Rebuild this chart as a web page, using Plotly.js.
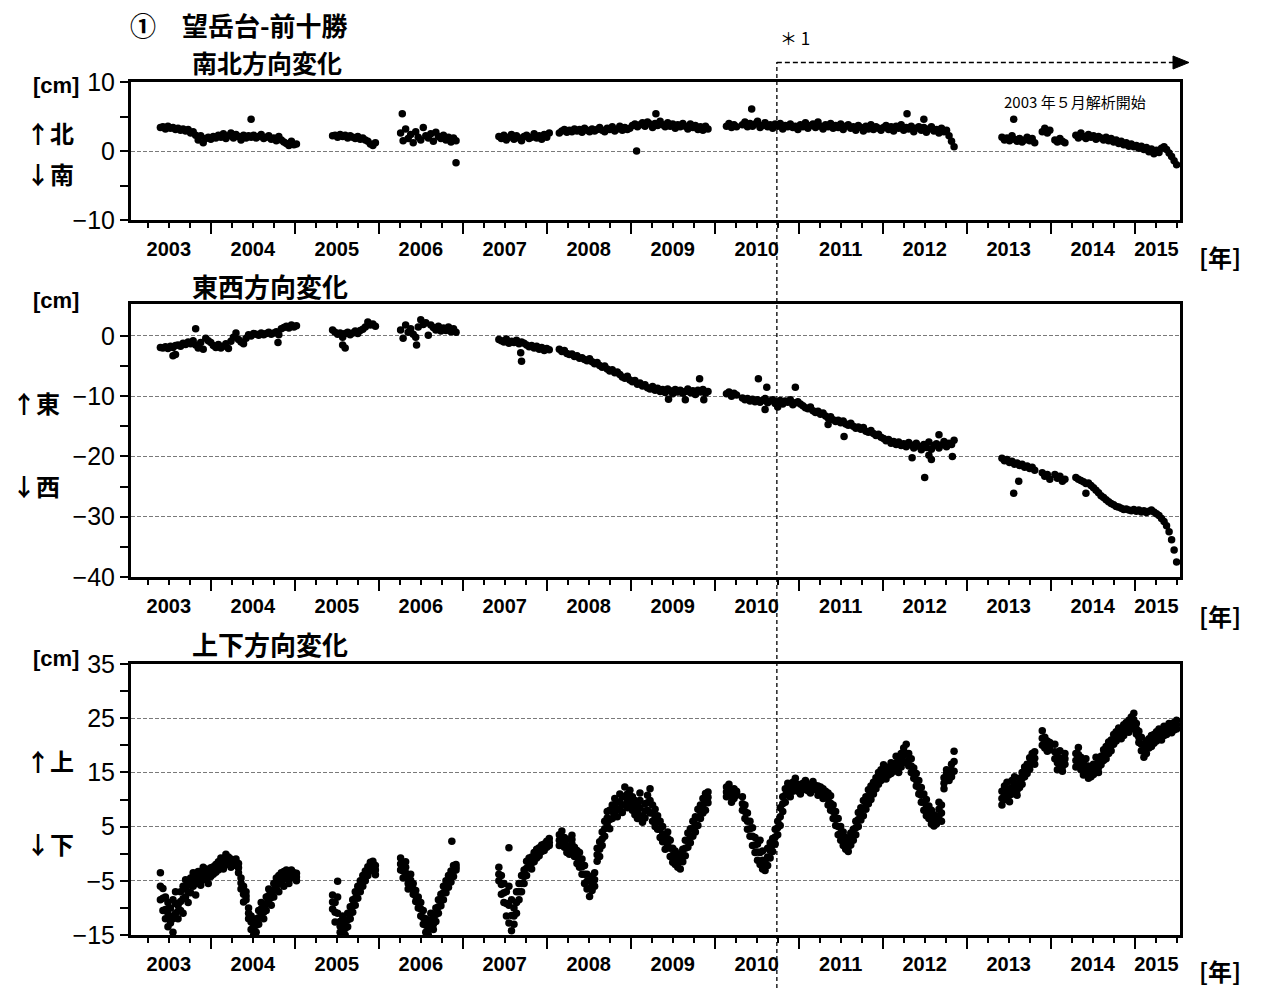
<!DOCTYPE html>
<html><head><meta charset="utf-8">
<script src="https://cdn.plot.ly/plotly-3.0.1.min.js"></script>
<style>body{margin:0;background:#fff}#chart{width:1265px;height:988px}</style>
</head><body><div id="chart"></div>
<script>
// ---- observation times (decimal years), shared by the three components ----
const t = [
// A
2003.40,2003.43,2003.46,2003.49,2003.52,2003.55,2003.58,2003.61,2003.64,2003.67,2003.70,2003.73,2003.76,2003.79,2003.82,2003.85,2003.88,2003.91,2003.94,2003.97,
2004.00,2004.03,2004.06,2004.09,2004.12,2004.15,2004.18,2004.21,2004.24,2004.27,2004.30,2004.33,2004.36,2004.39,2004.42,2004.45,2004.48,2004.51,2004.54,2004.57,
2004.60,2004.63,2004.66,2004.69,2004.72,2004.75,2004.78,2004.81,2004.84,2004.87,2004.90,2004.93,2004.96,2004.99,2005.02,
// B
2005.45,2005.48,2005.51,2005.54,2005.57,2005.60,2005.63,2005.66,2005.69,2005.72,2005.75,2005.78,2005.81,2005.84,2005.87,2005.90,2005.93,2005.96,
// C
2006.26,2006.29,2006.32,2006.35,2006.38,2006.41,2006.44,2006.47,2006.50,2006.53,2006.56,2006.59,2006.62,2006.65,2006.68,2006.71,2006.74,2006.77,2006.80,2006.83,2006.86,2006.89,2006.92,
// D
2007.43,2007.46,2007.49,2007.52,2007.55,2007.58,2007.61,2007.64,2007.67,2007.70,2007.73,2007.76,2007.79,2007.82,2007.85,2007.88,2007.91,2007.94,2007.97,2008.00,2008.03,
// E
2008.15,2008.18,2008.21,2008.24,2008.27,2008.30,2008.33,2008.36,2008.39,2008.42,2008.45,2008.48,2008.51,2008.54,2008.57,2008.60,2008.63,2008.66,2008.69,2008.72,2008.75,2008.78,2008.81,2008.84,2008.87,2008.90,2008.93,2008.96,2008.99,
2009.02,2009.05,2009.08,2009.11,2009.14,2009.17,2009.20,2009.23,2009.26,2009.29,2009.32,2009.35,2009.38,2009.41,2009.44,2009.47,2009.50,2009.53,2009.56,2009.59,2009.62,2009.65,2009.68,2009.71,2009.74,2009.77,2009.80,2009.83,2009.86,2009.89,2009.92,
// F
2010.14,2010.17,2010.20,2010.23,2010.26,
// G
2010.33,2010.36,2010.39,2010.42,2010.45,2010.48,2010.51,2010.54,2010.57,2010.60,2010.63,2010.66,2010.69,2010.72,2010.75,2010.78,2010.81,2010.84,2010.87,2010.90,2010.93,2010.96,2010.99,
2011.02,2011.05,2011.08,2011.11,2011.14,2011.17,2011.20,2011.23,2011.26,2011.29,2011.32,2011.35,2011.38,2011.41,2011.44,2011.47,2011.50,2011.53,2011.56,2011.59,2011.62,2011.65,2011.68,2011.71,2011.74,2011.77,2011.80,2011.83,2011.86,2011.89,2011.92,2011.95,2011.98,
2012.01,2012.04,2012.07,2012.10,2012.13,2012.16,2012.19,2012.22,2012.25,2012.28,2012.31,2012.34,2012.37,2012.40,2012.43,2012.46,2012.49,2012.52,2012.55,2012.58,2012.61,2012.64,2012.67,2012.70,2012.73,2012.76,2012.79,2012.82,2012.85,
// H
2013.42,2013.45,2013.48,2013.51,2013.54,2013.57,2013.60,2013.63,2013.66,2013.69,2013.72,2013.75,2013.78,2013.81,
// I
2013.90,2013.93,2013.96,2013.99,
// J
2014.05,2014.08,2014.11,2014.14,2014.17,
// K
2014.30,2014.33,2014.36,2014.39,2014.42,2014.45,2014.48,2014.51,2014.54,2014.57,2014.60,2014.63,2014.66,2014.69,2014.72,2014.75,2014.78,2014.81,2014.84,2014.87,2014.90,2014.93,2014.96,2014.99,
2015.02,2015.05,2015.08,2015.11,2015.14,2015.17,2015.20,2015.23,2015.26,2015.29,2015.32,2015.35,2015.38,2015.41,2015.44,2015.47,2015.50
];

// ---- 南北 (north-south) change, cm ----
const ns = [
3.4,3.5,3.2,3.6,3.3,3.4,3.1,3.3,3.0,3.2,2.9,3.1,2.6,2.8,2.3,1.6,2.2,1.2,1.8,2.0,
1.7,2.1,1.9,2.3,2.0,2.5,1.8,2.2,2.6,1.9,2.4,2.1,1.6,2.3,1.9,2.2,2.0,2.3,1.9,2.1,
2.4,1.8,2.0,2.2,1.7,1.9,1.5,2.1,1.6,1.3,1.1,0.8,1.4,0.9,1.0,
2.2,2.3,2.0,2.4,2.1,2.3,1.9,2.2,2.0,1.8,2.1,1.7,1.9,1.6,1.4,1.0,0.8,1.2,
2.6,1.5,3.2,1.8,2.4,1.2,2.8,2.0,1.6,3.4,2.2,1.9,2.5,1.4,2.7,2.1,1.8,2.3,1.6,2.0,1.3,1.9,1.5,
2.1,1.8,2.3,1.6,2.0,2.4,1.7,2.2,1.9,1.5,2.1,2.3,1.8,2.0,2.5,1.9,2.2,1.7,2.4,2.0,2.6,
2.6,2.9,3.1,2.7,3.0,2.8,3.2,2.9,3.1,2.7,3.3,3.0,2.8,3.2,2.9,3.1,3.4,3.0,2.8,3.3,3.1,3.5,2.9,3.2,3.6,3.0,3.4,3.1,3.3,
3.7,3.9,3.5,3.8,4.1,3.6,4.2,3.9,3.4,4.0,3.7,4.3,3.8,3.5,4.1,3.6,3.9,3.3,3.8,3.5,4.0,3.6,3.2,3.9,3.4,3.7,3.1,3.5,3.0,3.6,3.2,
3.6,4.0,3.4,3.8,3.5,
3.8,4.2,3.5,4.0,3.6,3.9,4.3,3.4,3.7,4.1,3.5,3.8,3.3,3.9,3.6,4.0,3.2,3.7,3.5,3.9,3.4,3.6,3.1,
3.8,3.5,4.1,3.3,3.7,3.9,3.4,4.2,3.6,3.2,3.8,3.5,4.0,3.3,3.7,3.4,3.9,3.1,3.6,3.8,3.3,3.5,3.0,3.7,3.4,2.9,3.6,3.2,3.8,3.1,3.5,3.3,3.0,
3.4,3.7,3.1,3.5,2.9,3.6,3.3,3.8,3.0,3.4,3.2,3.6,2.8,3.3,3.5,3.0,3.4,2.7,3.2,3.5,2.9,3.1,2.6,3.3,2.8,3.0,2.2,1.4,0.6,
2.0,1.6,1.9,1.5,2.2,1.7,1.4,1.8,1.3,1.6,2.0,1.5,1.8,1.2,
2.8,3.3,2.6,3.0,
1.6,1.3,1.8,1.4,1.2,
2.3,1.9,2.6,2.1,1.8,2.4,2.0,2.2,1.7,2.1,1.9,1.6,2.0,1.5,1.8,1.3,1.6,1.1,1.4,0.9,1.2,0.7,1.0,0.6,
0.8,0.4,0.7,0.2,0.5,-0.1,0.3,-0.4,0.1,-0.2,0.4,0.6,0.2,-0.3,-0.8,-1.4,-2.0
];
const nsExtraT = [2004.48,2006.28,2006.92,2009.07,2009.30,2010.44,2012.29,2012.49,2013.56];
const nsExtraV = [4.6,5.4,-1.7,0.0,5.4,6.1,5.4,4.6,4.6];

// ---- 東西 (east-west) change, cm ----
const ew = [
-1.9,-2.0,-1.8,-2.1,-1.7,-1.9,-1.6,-1.5,-1.7,-1.2,-1.4,-1.0,-1.3,-0.8,-1.5,-2.0,-1.1,-2.2,-0.4,-0.8,
-1.1,-1.6,-1.9,-1.4,-2.0,-1.7,-1.3,-2.1,-0.9,-0.2,0.5,-0.6,-1.0,-1.3,-0.4,0.2,0.0,0.4,0.3,0.1,
0.5,0.2,0.4,0.6,0.3,0.5,0.7,0.2,1.2,1.4,1.6,1.3,1.8,1.5,1.7,
1.0,0.6,0.3,0.5,-0.2,0.4,0.6,0.2,0.5,0.8,0.4,0.9,1.1,1.5,2.3,1.8,2.0,1.6,
1.0,-0.4,1.8,0.6,1.2,0.3,-0.2,1.5,2.7,1.9,2.2,0.1,1.8,1.4,1.0,1.6,0.8,1.3,0.9,1.5,0.7,1.2,0.6,
-0.6,-0.8,-1.0,-0.5,-1.2,-0.9,-1.1,-0.7,-1.3,-1.0,-1.2,-1.5,-1.8,-1.6,-2.0,-1.7,-2.2,-1.9,-2.4,-2.1,-2.3,
-2.2,-2.6,-2.4,-2.9,-3.1,-3.0,-3.4,-3.3,-3.7,-3.6,-3.9,-4.1,-3.8,-4.3,-4.6,-4.4,-4.9,-5.2,-5.0,-5.5,-5.8,-5.6,-6.1,-6.0,-6.4,-6.8,-7.0,-6.7,-7.3,
-7.6,-7.4,-8.0,-7.8,-8.3,-8.1,-8.6,-8.8,-8.4,-9.0,-8.7,-9.2,-8.9,-9.4,-8.8,-9.1,-9.6,-8.9,-9.3,-9.0,-9.5,-9.2,-8.8,-9.4,-9.1,-9.7,-9.0,-9.3,-8.9,-9.5,-9.2,
-9.6,-9.3,-10.0,-9.5,-9.8,
-10.3,-10.6,-10.4,-10.8,-10.5,-10.9,-10.6,-11.0,-10.7,-10.4,-11.1,-10.8,-10.6,-11.2,-10.9,-10.7,-11.3,-10.8,-11.0,-10.6,-11.4,-11.1,-10.9,
-11.3,-11.6,-11.9,-12.1,-11.8,-12.4,-12.7,-12.5,-13.0,-12.8,-13.3,-13.6,-13.4,-13.9,-14.2,-14.0,-14.4,-14.1,-14.6,-14.8,-14.5,-15.0,-15.3,-15.1,-15.5,-15.2,-15.8,-16.0,-15.7,-16.2,-16.5,-16.3,-16.8,
-17.0,-17.4,-17.2,-17.8,-17.5,-18.0,-17.6,-18.2,-17.9,-18.4,-17.7,-18.1,-18.6,-17.8,-18.3,-18.9,-18.0,-18.5,-17.6,-18.8,-18.2,-17.9,-18.6,-18.1,-17.5,-18.4,-17.8,-18.0,-17.3,
-20.3,-20.7,-20.5,-21.0,-20.8,-21.3,-21.1,-21.5,-21.3,-21.8,-21.6,-22.0,-21.8,-22.3,
-22.7,-23.3,-23.0,-23.8,
-23.0,-23.6,-23.3,-24.1,-23.8,
-23.5,-23.8,-24.0,-24.2,-24.5,-24.4,-24.8,-25.2,-25.6,-26.0,-26.5,-26.8,-27.2,-27.5,-27.8,-28.0,-28.3,-28.4,-28.6,-28.8,-28.7,-28.9,-29.0,-28.8,
-29.1,-28.9,-29.2,-29.0,-29.3,-29.1,-28.9,-29.2,-29.5,-29.8,-30.3,-30.8,-31.5,-32.5,-33.8,-35.5,-37.5
];
const ewExtraT = [2003.55,2003.58,2003.82,2004.80,2005.57,2005.60,2006.45,2007.69,2007.70,2009.45,2009.65,2009.82,2009.87,2010.52,2010.60,2010.62,2010.75,2010.96,2011.35,2011.54,2012.35,2012.50,2012.55,2012.58,2012.67,2012.83,2013.56,2013.62,2014.42];
const ewExtraV = [-3.3,-3.1,1.2,-1.1,-1.5,-2.0,-1.5,-2.8,-4.2,-10.5,-10.6,-7.1,-10.6,-7.1,-12.2,-8.5,-11.8,-8.5,-14.7,-16.7,-20.2,-23.5,-19.8,-20.5,-16.4,-20.0,-26.1,-24.1,-26.1];

// ---- 上下 (up-down) change, cm : three readings per date (upper / lower / middle of the scatter) ----
const ud = [
-3.5,-6.4,-8,-9,-10,-8.5,-11,-9.5,-7,-6,-8,-5.5,-4.5,-6,-4,-5,-3.6,-2.5,-4,-3.2,
-2.6,-3.8,-2.0,-1.5,-0.8,-1.2,-0.1,-1.8,-1.0,-1.4,-2.2,-3.5,-4.5,-6,-8.5,-10,-11.5,-13,-12,-10.5,
-11.5,-9.5,-8,-9,-7,-5.5,-6.5,-4,-5.5,-3.3,-4.5,-3.8,-3,-3.5,-3.6,
-7.6,-9,-11,-12.5,-13.8,-15,-11,-9.8,-8.5,-7,-6,-5,-4,-3.2,-2.4,-1.6,-2.6,-3.9,
-0.8,-2,-3.5,-4.5,-6,-7.5,-8.8,-10,-11.5,-13,-12,-15,-13.5,-12,-10,-8.5,-7.5,-6,-5,-4,-3.2,-2.2,-3,
-2.5,-4,-5.5,-7,-6,-8.5,-10,-7,-5.5,-4,-3,-1.4,-2.2,-0.6,0.2,-0.8,1.1,0.4,1.8,2.3,1.5,
3.5,2.0,1.2,2.6,0.8,1.8,-0.5,0.6,-2.5,-3.8,-5.5,-6.5,-7.9,-6.8,-3.5,-1.4,2.2,4.0,3.2,5.5,8.0,6.5,7.6,9.5,8.2,10.5,9.0,11.0,9.6,
8.0,9.8,6.5,8.5,7.0,9.2,10.8,7.5,6.0,8.2,4.5,6.0,2.2,3.5,1.5,-0.5,1.0,-2.0,-0.6,-2.8,0.8,2.5,1.2,4.6,3.2,6.8,5.2,9.0,7.5,11.1,9.4,
12.3,11.0,9.5,12.0,10.8,
10.5,9.0,7.5,6.0,4.8,3.0,1.8,2.5,0.5,-1.5,1.0,-0.8,2.8,4.5,6.0,8.5,10.5,12.0,11.2,12.5,13.2,12.0,11.5,
12.6,13.0,12.2,11.6,12.8,13.3,11.8,12.5,11.0,12.0,10.5,9.0,8.0,6.5,5.2,3.5,2.5,1.5,3.0,0.4,1.6,4.5,6.0,5.0,8.5,7.0,10.5,9.2,12.5,11.0,14.0,12.8,15.5,
14.2,15.0,16.0,14.8,16.5,15.5,17.5,18.5,17.0,20.2,16.2,15.0,13.9,12.5,11.0,9.5,8.0,10.0,6.5,5.5,7.2,5.5,7.0,9.0,12.0,13.9,15.0,16.5,18.9,
9.0,12.5,10.5,12.0,13.5,11.8,12.6,13.9,15.0,14.2,16.5,15.6,17.2,18.8,
22.7,19.5,18.9,20.5,
20.2,18.0,16.2,17.0,18.5,
18.5,17.0,15.5,16.8,15.0,13.9,15.8,16.5,15.2,16.8,18.0,17.2,19.8,18.5,21.0,20.2,22.5,21.3,23.0,21.8,22.6,24.6,23.0,25.9,
22.1,20.5,19.0,20.2,18.5,21.2,19.8,22.0,20.8,21.5,22.8,21.8,23.2,22.5,23.6,24.2,24.6
];
const udB = [
-8.5,-10.5,-12,-13.5,-12.8,-14.5,-7,-12,-10.5,-11,-4.8,-9,-7.2,-3.5,-7.6,-3.3,-5.8,-4.8,-2.8,-5.5,
-4.2,-2.4,-3.4,-3,-2.4,-2.8,-2,-0.6,-2.5,-2.0,-1.0,-1.8,-6.5,-8.9,-7,-12,-14,-15,-14.5,-13,
-9,-12,-10.5,-6.5,-9.5,-8,-4.5,-7,-3.5,-6,-3,-5.5,-4.5,-4.2,-5,
-10.2,-12.6,-5.1,-14.5,-11.5,-12.5,-13.5,-12,-10.8,-9.5,-8.2,-7,-6,-5,-4,-3.2,-1.4,-2.2,
-3,-4.5,-1.5,-6.5,-3.8,-5.5,-6.8,-8,-9,-10.5,-14.5,-12.8,-11,-14,-12.5,-11,-9.6,-8.5,-7.2,-6.2,-5.2,-4.2,-2,
-5,-7.5,-9,-11.5,-12.8,-14.2,-13,-11,-8.5,-7,-5.5,-4,-0.8,-2.8,-1.5,0.8,-0.4,1.6,0.6,1.2,2.8,
1.5,4.2,3.0,0.2,-0.1,3.4,1.2,-1.8,0.2,-1.0,-2.2,-3.8,-5.0,-4.2,-6.0,1.0,-0.5,1.5,6.0,7.8,4.6,9.0,10.2,6.8,11.0,7.6,12.3,8.5,11.7,
10.5,7.2,9.0,11.2,5.8,6.6,8.0,12.0,9.0,5.0,7.0,3.0,5.0,0.8,4.0,2.5,-1.6,0.5,-2.5,0.0,-1.5,-0.4,3.8,2.0,6.0,4.0,8.2,6.5,10.2,8.0,11.4,
10.5,12.8,11.8,10.2,11.5,
8.0,6.5,4.5,3.2,1.5,0.2,-1.2,-2.0,-2.8,-3.1,-2.2,2.0,0.4,1.8,3.5,5.2,7.8,9.5,13.0,10.5,11.5,13.9,12.8,
11.0,11.8,13.5,12.8,11.2,12.0,12.6,10.8,12.3,10.2,11.5,11.2,10.7,9.0,7.8,6.5,5.0,4.0,0.8,2.2,3.8,2.5,3.5,7.6,6.2,9.8,8.2,11.8,10.0,13.2,12.0,15.0,13.5,
16.4,13.8,14.5,16.8,15.2,18.0,15.0,16.0,19.5,16.8,18.5,17.5,15.8,14.8,13.5,12.2,11.0,7.0,8.8,8.0,5.1,6.8,9.5,6.0,14.0,15.5,13.5,14.2,15.2,
11.5,10.0,13.2,9.6,11.0,14.2,10.8,12.2,12.8,16.0,14.8,17.7,18.5,16.5,
20.0,21.5,20.8,19.2,
17.5,15.5,19.0,15.2,16.5,
16.0,19.6,17.8,14.5,17.5,16.2,14.2,14.6,17.8,15.0,16.4,19.2,17.5,20.6,19.0,22.0,20.8,23.2,21.2,23.8,24.2,22.4,25.2,23.5,
24.0,22.6,21.5,17.8,20.8,19.5,21.8,20.4,22.5,23.0,21.0,23.5,22.0,24.0,22.3,22.8,23.0
];
const udC = [
-6.0,-8.2,-10.3,-11.0,-11.6,-12.0,-9.2,-10.6,-8.8,-8.3,-6.5,-7.0,-5.8,-4.9,-5.5,-4.0,-4.6,-3.4,-3.5,-4.3,
-3.3,-3.0,-2.8,-2.1,-1.7,-2.0,-1.0,-1.2,-1.8,-1.6,-1.5,-2.6,-5.4,-7.5,-7.8,-11.0,-12.6,-14.0,-13.2,-11.8,
-10.2,-10.8,-9.2,-7.7,-8.1,-6.8,-5.4,-5.6,-4.4,-4.7,-3.8,-4.6,-3.7,-3.9,-4.3,
-8.9,-10.8,-8.0,-13.4,-12.6,-13.8,-12.2,-10.9,-9.6,-8.2,-7.1,-6.0,-5.0,-4.1,-3.2,-2.4,-2.0,-3.0,
-1.9,-3.2,-2.5,-5.5,-4.9,-6.5,-7.8,-9.0,-10.2,-11.8,-13.2,-13.9,-12.2,-13.0,-11.2,-9.8,-8.5,-7.2,-6.1,-5.1,-4.2,-3.2,-2.5,
-3.8,-5.7,-7.2,-9.2,-9.5,-11.4,-11.5,-9.0,-7.0,-5.5,-4.2,-2.7,-1.5,-1.7,-0.6,0.0,0.4,1.0,1.2,1.8,2.1,
2.5,3.1,2.1,1.4,0.4,2.6,0.3,-0.6,-1.2,-2.4,-3.8,-5.1,-6.4,-5.5,-4.8,-0.2,0.8,2.7,4.6,6.6,6.3,7.8,8.9,8.1,9.6,9.0,10.6,9.8,10.6,
9.2,8.5,7.8,9.8,6.4,7.9,9.4,9.8,7.5,6.6,5.8,4.5,3.6,2.2,2.8,1.0,-0.3,-0.8,-1.6,-1.4,-0.4,1.0,2.5,3.3,4.6,5.4,6.7,7.8,8.8,9.6,10.4,
11.4,11.9,10.6,11.1,11.2,
9.2,7.8,6.0,4.6,3.2,1.6,0.3,0.2,-1.2,-2.3,-0.6,0.6,1.6,3.1,4.8,6.8,9.2,10.8,12.1,11.5,12.3,13.0,12.1,
11.8,12.4,12.8,12.2,12.0,12.6,12.2,11.6,11.6,11.1,11.0,10.1,9.3,7.8,6.5,5.0,3.8,2.8,1.9,1.3,2.7,3.5,4.8,6.3,7.3,8.4,9.4,10.5,11.2,12.1,13.0,13.9,14.5,
15.3,14.4,15.2,15.8,15.9,16.8,16.2,17.2,18.2,18.5,17.3,16.2,14.8,13.6,12.2,10.8,9.5,8.5,7.6,6.8,6.1,6.2,8.2,7.5,13.0,14.7,14.2,15.4,17.0,
10.2,11.2,11.8,10.8,12.2,13.0,11.7,13.0,13.9,15.1,15.6,16.6,17.8,17.6,
21.3,20.5,19.8,19.9,
18.8,16.8,17.6,16.1,17.5,
17.2,18.3,16.6,15.6,16.2,15.0,15.0,15.5,16.5,15.9,17.2,18.2,18.6,19.5,20.0,21.1,21.6,22.2,22.1,22.8,23.4,23.5,24.1,24.7,
23.0,21.5,20.2,19.0,19.6,20.3,20.8,21.2,21.6,22.2,21.9,22.6,22.6,23.2,23.0,23.5,23.8
];
const udExtraT = [2006.87,2007.55];
const udExtraV = [2.3,1.1];

// ---- axis furniture ----
const yearLabels = ['2003','2004','2005','2006','2007','2008','2009','2010','2011','2012','2013','2014','2015'];
const yearLabelPos = [2003.5,2004.5,2005.5,2006.5,2007.5,2008.5,2009.5,2010.5,2011.5,2012.5,2013.5,2014.5,2015.26];
const yearTicks = [2004,2005,2006,2007,2008,2009,2010,2011,2012,2013,2014,2015];
const quarterTicks = [];
for (let y = 2003; y <= 2015; y++) { [0.25,0.5,0.75].forEach(q => { if (y+q > 2003.05 && y+q < 2015.54) quarterTicks.push(y+q); }); }
const marker1Year = 2010.74;   // ＊1 boundary

const X0 = 2003.05, X1 = 2015.54;
const W = 1265, H = 988;
const xDom = [131/W, 1180/W];
const px = v => v / W, py = v => 1 - v / H;
const dateToPaper = d => xDom[0] + (d - X0) / (X1 - X0) * (xDom[1] - xDom[0]);

const mk = {color:'#000', size:7.5};
const traces = [
  {type:'scatter', mode:'markers', x:t.concat(nsExtraT), y:ns.concat(nsExtraV), xaxis:'x', yaxis:'y', marker:mk, hoverinfo:'x+y'},
  {type:'scatter', mode:'markers', x:t.concat(ewExtraT), y:ew.concat(ewExtraV), xaxis:'x2', yaxis:'y2', marker:mk, hoverinfo:'x+y'},
  {type:'scatter', mode:'markers', x:t.concat(t, t, udExtraT), y:ud.concat(udB, udC, udExtraV), xaxis:'x3', yaxis:'y3', marker:mk, hoverinfo:'x+y'},
  {type:'scatter', mode:'markers', x:[], y:[], xaxis:'x4', yaxis:'y', hoverinfo:'skip'},
  {type:'scatter', mode:'markers', x:[], y:[], xaxis:'x5', yaxis:'y2', hoverinfo:'skip'},
  {type:'scatter', mode:'markers', x:[], y:[], xaxis:'x6', yaxis:'y3', hoverinfo:'skip'}
];

function baseX(anchor){
  return {domain:xDom, range:[X0,X1], anchor:anchor, showline:true, mirror:true, linewidth:3, linecolor:'#000',
    ticks:'outside', ticklen:11, tickwidth:2, tickcolor:'#000', tickmode:'array', tickvals:yearTicks,
    showticklabels:false, showgrid:false, zeroline:false,
    minor:{tickmode:'array', tickvals:quarterTicks, ticks:'outside', ticklen:5, tickwidth:2, tickcolor:'#000', showgrid:false}};
}
function labelX(over, anchor){
  return {domain:xDom, range:[X0,X1], overlaying:over, anchor:anchor, side:'bottom', showline:false,
    tickmode:'array', tickvals:yearLabelPos, ticktext:yearLabels, ticks:'outside', ticklen:11, tickcolor:'rgba(0,0,0,0)',
    showgrid:false, zeroline:false,
    tickfont:{family:'Liberation Sans, Arial, sans-serif', size:20, weight:'bold', color:'#000'}};
}
function yAx(dom, range, major, minor, anchor){
  return {domain:dom, range:range, anchor:anchor, showline:true, mirror:true, linewidth:3, linecolor:'#000',
    ticks:'outside', ticklen:8, tickwidth:2, tickcolor:'#000', tickmode:'array', tickvals:major,
    showgrid:true, gridcolor:'#7a7a7a', gridwidth:1, griddash:'4px,2px', zeroline:false,
    minor:{tickmode:'array', tickvals:minor, ticks:'outside', ticklen:8, tickwidth:2, tickcolor:'#000', showgrid:false},
    tickfont:{family:'Liberation Sans, Arial, sans-serif', size:25, color:'#000'}};
}

const cjk = 'Noto Sans CJK JP, sans-serif';
function lab(text, x, y, size, opts){
  return Object.assign({text:text, xref:'paper', yref:'paper', x:px(x), y:py(y), xanchor:'left', yanchor:'middle',
    showarrow:false, font:{family:cjk, size:size, color:'#000', weight:'bold'}}, opts||{});
}
const cmFont = {family:'Liberation Sans, Arial', size:22, color:'#000', weight:'bold'};
const annotations = [
  lab('①　望岳台-前十勝', 128, 24, 26),
  lab('南北方向変化', 190, 62, 25),
  lab('東西方向変化', 190, 285, 26),
  lab('上下方向変化', 190, 643, 26),
  lab('[cm]', 81, 86, 22, {xanchor:'right', font:cmFont}),
  lab('[cm]', 81, 300, 22, {xanchor:'right', font:cmFont}),
  lab('[cm]', 81, 658, 22, {xanchor:'right', font:cmFont}),
  lab('↑北', 24, 132, 24), lab('↓南', 24, 173, 24),
  lab('↑東', 10, 402, 24), lab('↓西', 10, 485, 24),
  lab('↑上', 24, 760, 24), lab('↓下', 24, 843, 24),
  lab('[年]', 1197, 257, 24), lab('[年]', 1197, 615, 24), lab('[年]', 1197, 970, 24),
  lab('＊ 1', 778, 37, 17, {font:{family:cjk, size:17, color:'#000'}}),
  lab('2003 年５月解析開始', 1148, 101, 15, {xanchor:'right', font:{family:cjk, size:15, color:'#000'}})
];

const xm = dateToPaper(marker1Year);
const shapes = [
  {type:'line', xref:'paper', yref:'paper', x0:xm, x1:xm, y0:0, y1:py(62), line:{color:'#000', width:1.3, dash:'4px,3px'}},
  {type:'line', xref:'paper', yref:'paper', x0:xm, x1:px(1176), y0:py(62.5), y1:py(62.5), line:{color:'#000', width:1.3, dash:'5px,3px'}},
  {type:'path', xref:'paper', yref:'paper', path:`M ${px(1173)},${py(56)} L ${px(1189)},${py(62.5)} L ${px(1173)},${py(69)} Z`, fillcolor:'#000', line:{color:'#000', width:1}}
];

const layout = {
  width:W, height:H, margin:{l:0, r:0, t:0, b:0}, paper_bgcolor:'#fff', plot_bgcolor:'#fff', showlegend:false,
  xaxis: baseX('y'), xaxis2: baseX('y2'), xaxis3: baseX('y3'),
  xaxis4: labelX('x','y'), xaxis5: labelX('x2','y2'), xaxis6: labelX('x3','y3'),
  yaxis: yAx([py(220), py(82)], [-10,10], [-10,0,10], [-5,5], 'x'),
  yaxis2: yAx([py(577), py(304)], [-40,5.3], [-40,-30,-20,-10,0], [-35,-25,-15,-5], 'x2'),
  yaxis3: yAx([py(935), py(664)], [-15,35], [-15,-5,5,15,25,35], [-10,0,10,20,30], 'x3'),
  annotations: annotations, shapes: shapes
};
Plotly.newPlot('chart', traces, layout, {staticPlot:true, displayModeBar:false});
</script>
</body></html>
